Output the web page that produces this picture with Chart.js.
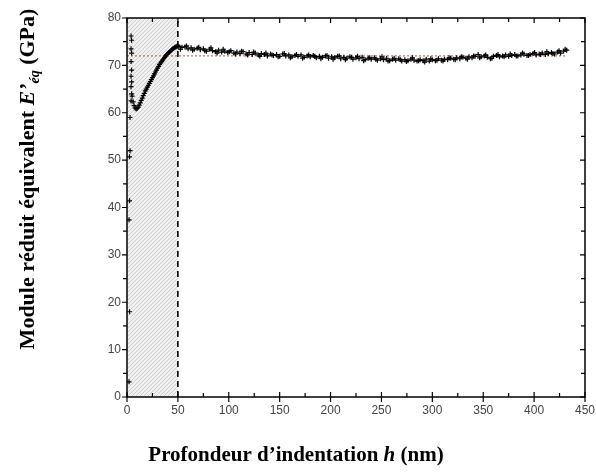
<!DOCTYPE html>
<html>
<head>
<meta charset="utf-8">
<script src="https://cdn.jsdelivr.net/npm/chart.js@4"></script>
<style>
  html, body { margin: 0; padding: 0; background: #fff; }
  canvas { display: block; }
</style>
</head>
<body>
<canvas id="chart" width="596" height="475"></canvas>
<script>
// valeurs
const xTicks = [0, 50, 100, 150, 200, 250, 300, 350, 400, 450];
const yTicks = [0, 10, 20, 30, 40, 50, 60, 70, 80];

// premiers points (contact)
const hStart = [2, 2.5, 2, 2.5, 2.5, 3, 3, 4, 4.5, 4, 4.5, 4, 4.5, 4, 4.5, 4, 4.5, 4];
const eStart = [3.2, 18, 37.4, 41.4, 50.7, 52, 59, 62.5, 64, 65.5, 66.5, 67.7, 69, 70.8, 72.6, 73.5, 75.3, 76.2];

// creux puis remontee
const hDip = [5, 6, 7, 8, 9, 10, 11, 12, 13, 14, 15, 16, 17, 18, 19, 20, 21, 22, 23, 24, 25,
  26, 27, 28, 29, 30, 31, 32, 33, 34, 35, 36, 37, 38, 39, 40, 41, 42, 43, 44, 45, 46, 47, 48, 49, 50];
const eDip = [63.5, 62.3, 61.5, 61.0, 60.8, 60.9, 61.2, 61.6, 62.1, 62.6, 63.1, 63.6, 64.1, 64.6, 65.0, 65.4, 65.8, 66.2, 66.6, 67.0, 67.4,
  67.8, 68.2, 68.6, 69.0, 69.4, 69.8, 70.2, 70.5, 70.8, 71.1, 71.4, 71.7, 72.0, 72.3, 72.5, 72.7, 72.9, 73.1, 73.3, 73.5, 73.6, 73.8, 73.9, 74.0, 74.1];

// plateau
const hPlateau = [51, 54, 57, 60, 63, 66, 69, 72, 75, 78, 81, 84, 87, 90, 93, 96, 99, 102, 105, 108,
  111, 114, 117, 120, 123, 126, 129, 132, 135, 138, 141, 144, 147, 150, 153, 156, 159, 162, 165, 168,
  171, 174, 177, 180, 183, 186, 189, 192, 195, 198, 201, 204, 207, 210, 213, 216, 219, 222, 225, 228,
  231, 234, 237, 240, 243, 246, 249, 252, 255, 258, 261, 264, 267, 270, 273, 276, 279, 282, 285, 288,
  291, 294, 297, 300, 303, 306, 309, 312, 315, 318, 321, 324, 327, 330, 333, 336, 339, 342, 345, 348,
  351, 354, 357, 360, 363, 366, 369, 372, 375, 378, 381, 384, 387, 390, 393, 396, 399, 402, 405, 408,
  411, 414, 417, 420, 423, 426, 429, 432];
const ePlateau = [74.0, 73.8, 73.9, 73.5, 73.7, 73.4, 73.6, 73.3, 73.5, 73.0, 73.4, 73.1, 72.9, 73.2, 72.8, 73.0, 72.7, 73.1, 72.6, 72.8,
  72.5, 72.9, 72.4, 72.7, 72.3, 72.6, 72.2, 72.5, 72.3, 72.0, 72.4, 72.1, 72.3, 71.9, 72.4, 72.0, 72.2, 71.8, 72.1, 71.9,
  72.2, 71.7, 72.0, 71.8, 72.1, 71.6, 71.9, 71.7, 72.0, 71.5, 71.8, 71.6, 71.9, 71.4, 71.7, 71.5, 71.8, 71.3, 71.6, 71.4,
  71.7, 71.2, 71.5, 71.3, 71.6, 71.1, 71.4, 71.2, 71.5, 71.0, 71.3, 71.1, 71.4, 70.9, 71.2, 71.0, 71.3, 71.1, 70.9, 71.2,
  71.0, 71.3, 70.9, 71.2, 71.0, 71.4, 71.1, 71.3, 71.2, 71.5, 71.3, 71.6, 71.4, 71.7, 71.5, 71.8, 71.6, 71.9, 72.3, 71.8,
  72.0, 71.7, 71.4, 71.9, 72.1, 71.8, 72.0, 72.2, 71.9, 72.1, 72.3, 72.0, 72.2, 72.4, 72.1, 72.3, 72.5, 72.2, 72.4, 72.6,
  72.3, 72.5, 72.7, 72.4, 72.8, 72.6, 73.0, 73.2];

// points intercales du plateau (dispersion)
const hScatter = [52.5, 58.5, 64.5, 70.5, 76.5, 82.5, 88.5, 94.5, 100.5, 106.5, 112.5, 118.5, 124.5, 130.5, 136.5, 142.5,
  148.5, 154.5, 160.5, 166.5, 172.5, 178.5, 184.5, 190.5, 196.5, 202.5, 208.5, 214.5, 220.5, 226.5, 232.5, 238.5,
  244.5, 250.5, 256.5, 262.5, 268.5, 274.5, 280.5, 286.5, 292.5, 298.5, 304.5, 310.5, 316.5, 322.5, 328.5, 334.5,
  340.5, 346.5, 352.5, 358.5, 364.5, 370.5, 376.5, 382.5, 388.5, 394.5, 400.5, 406.5, 412.5, 418.5, 424.5, 430.5];
const eScatter = [73.4, 74.1, 73.2, 73.8, 73.1, 73.7, 72.6, 73.4, 72.9, 72.4, 73.0, 72.2, 72.8, 71.9, 72.6, 72.2,
  71.8, 72.5, 71.6, 72.3, 71.5, 72.2, 71.9, 71.4, 72.1, 71.3, 72.0, 71.2, 71.7, 71.9, 71.0, 71.6,
  71.3, 71.8, 70.9, 71.5, 71.2, 70.8, 71.6, 71.0, 70.7, 71.4, 71.1, 70.9, 71.6, 71.2, 71.8, 71.3,
  72.0, 71.6, 72.2, 71.5, 72.3, 71.8, 72.4, 72.0, 72.6, 72.1, 72.7, 72.3, 72.9, 72.5, 73.1, 73.4];

const refModulus = 72;     // ligne pointillee rouge
const refEnd = 432;
const zoneEnd = 50;        // zone hachuree 0-50 nm

const toPoints = (hs, es) => hs.map((h, i) => ({ x: h, y: es[i] }));
const measured = [].concat(toPoints(hStart, eStart), toPoints(hDip, eDip),
  toPoints(hPlateau, ePlateau), toPoints(hScatter, eScatter));

const SERIF = '"Liberation Serif", "DejaVu Serif", serif';

function makeHatch(ctx) {
  const c = document.createElement('canvas');
  c.width = 4; c.height = 4;
  const p = c.getContext('2d');
  p.fillStyle = '#f0f0f0';
  p.fillRect(0, 0, 4, 4);
  p.strokeStyle = '#c2c2c2';
  p.lineWidth = 0.7;
  p.beginPath();
  p.moveTo(0, 4); p.lineTo(4, 0);
  p.moveTo(-1, 1); p.lineTo(1, -1);
  p.moveTo(3, 5); p.lineTo(5, 3);
  p.stroke();
  return ctx.createPattern(c, 'repeat');
}

const decor = {
  id: 'decor',
  beforeDatasetsDraw(chart) {
    const { ctx, scales: { x, y } } = chart;
    const x0 = x.getPixelForValue(0), x1 = x.getPixelForValue(zoneEnd);
    ctx.save();
    ctx.fillStyle = makeHatch(ctx);
    ctx.fillRect(x0, y.top, x1 - x0, y.bottom - y.top);
    ctx.restore();
  },
  afterDraw(chart) {
    const { ctx, chartArea: a, scales: { x, y } } = chart;
    ctx.save();
    ctx.strokeStyle = '#000';
    ctx.lineWidth = 1.5;
    ctx.strokeRect(a.left, a.top, a.right - a.left, a.bottom - a.top);
    ctx.lineWidth = 1.2;
    ctx.beginPath();
    for (let v = 0; v <= 450; v += 25) {
      const px = x.getPixelForValue(v);
      const major = v % 50 === 0;
      // bas
      ctx.moveTo(px, a.bottom + (major ? 5 : 0));
      ctx.lineTo(px, a.bottom - (major ? 5 : 4));
      // haut
      ctx.moveTo(px, a.top);
      ctx.lineTo(px, a.top + (major ? 5 : 4));
    }
    for (let v = 0; v <= 80; v += 5) {
      const py = y.getPixelForValue(v);
      const major = v % 10 === 0;
      ctx.moveTo(a.left - (major ? 5 : 4), py);
      ctx.lineTo(a.left, py);
      ctx.moveTo(a.right, py);
      ctx.lineTo(a.right - (major ? 5 : 4), py);
    }
    ctx.stroke();

    // titres d'axes
    ctx.fillStyle = '#000';
    ctx.textBaseline = 'alphabetic';
    const drawParts = (parts, cx, cy, rotate) => {
      ctx.save();
      ctx.translate(cx, cy);
      if (rotate) ctx.rotate(-Math.PI / 2);
      let total = 0;
      parts.forEach(p => { ctx.font = p.font; total += ctx.measureText(p.text).width; });
      let pos = -total / 2;
      parts.forEach(p => {
        ctx.font = p.font;
        ctx.fillText(p.text, pos, p.dy || 0);
        pos += ctx.measureText(p.text).width;
      });
      ctx.restore();
    };
    drawParts([
      { text: 'Module réduit équivalent ', font: 'bold 22px ' + SERIF },
      { text: 'E’', font: 'italic bold 22px ' + SERIF },
      { text: 'éq', font: 'italic bold 14px ' + SERIF, dy: 5 },
      { text: ' (GPa)', font: 'bold 22px ' + SERIF }
    ], 34, 179, true);
    drawParts([
      { text: 'Profondeur d’indentation ', font: 'bold 21px ' + SERIF },
      { text: 'h', font: 'italic bold 21px ' + SERIF },
      { text: ' (nm)', font: 'bold 21px ' + SERIF }
    ], 296, 461, false);
    ctx.restore();
  }
};

const tickFont = { family: '"Liberation Sans", Arial, sans-serif', size: 12 };

new Chart(document.getElementById('chart'), {
  type: 'scatter',
  data: {
    datasets: [
      {
        label: 'E’éq',
        data: measured,
        pointStyle: 'cross',
        pointRadius: 2.5,
        borderColor: '#000',
        borderWidth: 1.2,
        showLine: false
      },
      {
        label: 'référence',
        type: 'line',
        data: [{ x: 0, y: refModulus }, { x: refEnd, y: refModulus }],
        borderColor: '#c0504d',
        borderWidth: 1,
        borderDash: [2, 2],
        pointRadius: 0
      },
      {
        label: 'limite',
        type: 'line',
        data: [{ x: zoneEnd, y: 0 }, { x: zoneEnd, y: 80 }],
        borderColor: '#000',
        borderWidth: 1.6,
        borderDash: [6, 4],
        pointRadius: 0
      }
    ]
  },
  options: {
    responsive: false,
    animation: false,
    layout: { padding: { top: 18, right: 11, bottom: 0, left: 0 } },
    plugins: { legend: { display: false }, tooltip: { enabled: false } },
    scales: {
      x: {
        type: 'linear',
        min: 0,
        max: 450,
        afterBuildTicks: s => { s.ticks = xTicks.map(v => ({ value: v })); },
        ticks: { color: '#444', font: tickFont, padding: 6, maxRotation: 0 },
        grid: { display: false, drawTicks: false },
        border: { display: false },
        afterFit: s => { s.height = 78; s.paddingLeft = 0; s.paddingRight = 0; }
      },
      y: {
        min: 0,
        max: 80,
        afterBuildTicks: s => { s.ticks = yTicks.map(v => ({ value: v })); },
        ticks: { color: '#444', font: tickFont, padding: 6 },
        grid: { display: false, drawTicks: false },
        border: { display: false },
        afterFit: s => { s.width = 127; s.paddingTop = 0; s.paddingBottom = 0; }
      }
    }
  },
  plugins: [decor]
});
</script>
</body>
</html>
